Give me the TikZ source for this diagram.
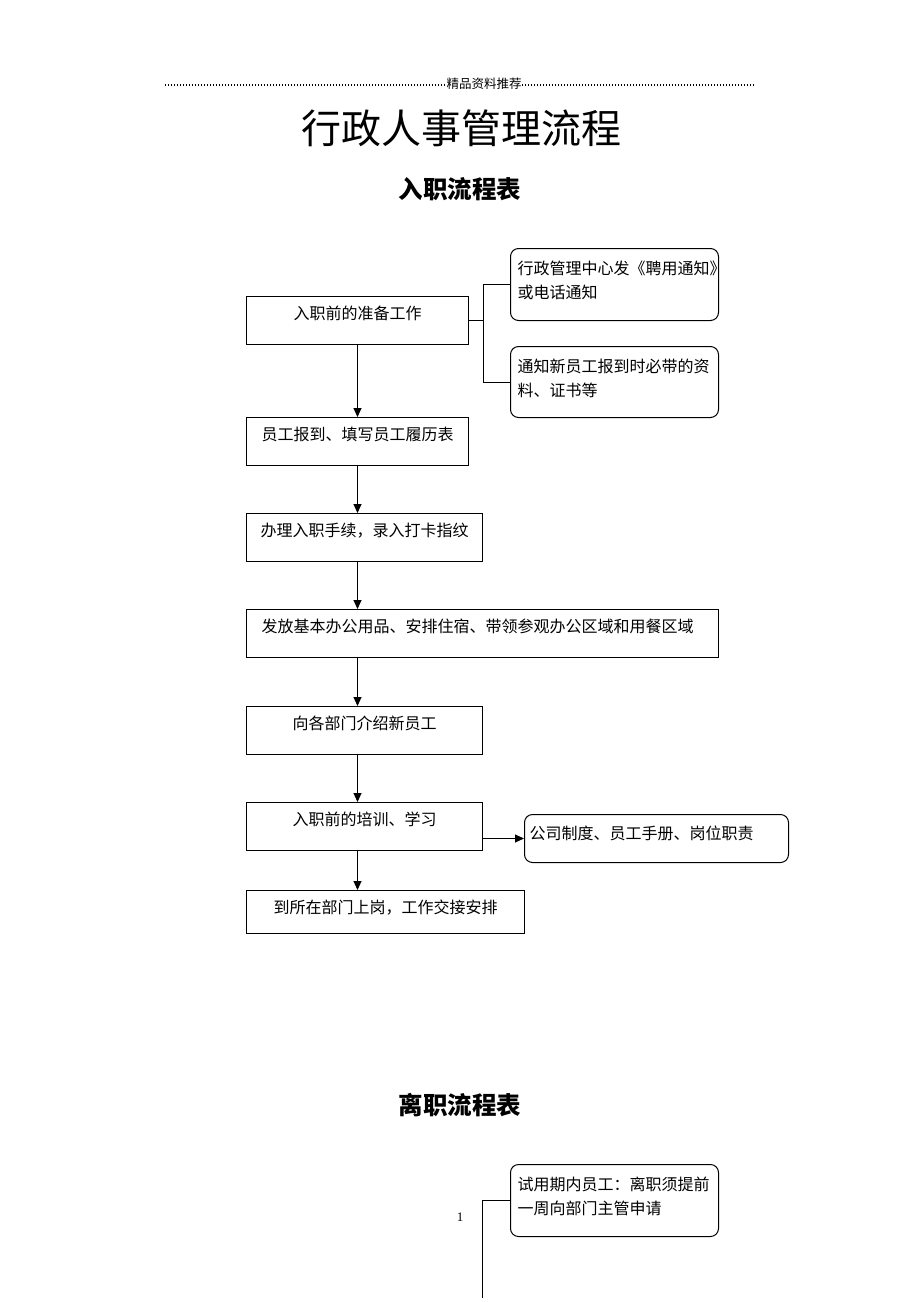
\documentclass[tikz,border=0pt]{standalone}
\usepackage{fontspec}
\setmainfont{Noto Sans CJK SC}
\newfontfamily\latinserif{Liberation Serif}
\usetikzlibrary{arrows.meta}
\newcommand\sqbox[3]{\parbox[c][#2pt][t]{#1pt}{\centering\rule{0pt}{23pt}#3}}
\newcommand\rdbox[3]{\parbox[c][#2pt][t]{#1pt}{\raggedright\leftskip=7pt\rule{0pt}{26pt}#3}}
\begin{document}
\begin{tikzpicture}[x=1pt,y=-1pt,
  every node/.style={font=\fontsize{16pt}{24pt}\selectfont},
  sq/.style={draw, line width=1pt, inner sep=0pt, anchor=north west},
  rd/.style={draw, line width=1pt, rounded corners=8pt, inner sep=0pt, anchor=north west},
  conn/.style={line width=1pt},
  arr/.style={line width=1pt, -{Triangle[length=9pt,width=8pt]}},
  dotline/.style={line width=1.2pt, dash pattern=on 1pt off 2pt}
]
\useasboundingbox (0,0) rectangle (920,1302);

% header
\node[font=\fontsize{12.5pt}{14pt}\selectfont, inner sep=0.5pt] (hdr) at (484,84) {精品资料推荐};
\draw[dotline] (165,85) -- (hdr.west |- 0,85);
\draw[dotline] (hdr.east |- 0,85) -- (756,85);

% titles
\node[font=\fontsize{40pt}{44pt}\selectfont] (title) at (461,128) {行政人事管理流程};
\node[font=\fontsize{24.5pt}{27pt}\selectfont\bfseries] (t1) at (460,189) {入职流程表};
\node[font=\fontsize{24.5pt}{27pt}\selectfont\bfseries] (t2) at (460,1105) {离职流程表};

% onboarding boxes
\node[sq] (b1) at (246,296) {\sqbox{222}{48}{入职前的准备工作}};
\node[rd] (r1) at (510,248) {\rdbox{208}{72}{行政管理中心发《聘用通知》\\或电话通知}};
\node[rd] (r2) at (510,346) {\rdbox{208}{71}{通知新员工报到时必带的资\\料、证书等}};
\node[sq] (b2) at (246,417) {\sqbox{222}{48}{员工报到、填写员工履历表}};
\node[sq] (b3) at (246,513) {\sqbox{236}{48}{办理入职手续，录入打卡指纹}};
\node[sq] (b4) at (246,609) {\sqbox{472}{48}{发放基本办公用品、安排住宿、带领参观办公区域和用餐区域\hspace*{10pt}}};
\node[sq] (b5) at (246,706) {\sqbox{236}{48}{向各部门介绍新员工}};
\node[sq] (b6) at (246,802) {\sqbox{236}{48}{入职前的培训、学习}};
\node[rd] (r3) at (524,814) {\parbox[c][48pt][t]{264pt}{\raggedright\leftskip=5pt\rule{0pt}{25pt}公司制度、员工手册、岗位职责}};
\node[sq] (b7) at (246,890) {\sqbox{278}{43}{到所在部门上岗，工作交接安排}};

% connectors
\draw[conn] (b1.east) -- ++(14,0) coordinate (j1);
\draw[conn] (r1.west) -- (r1.west -| j1) -- (r2.west -| j1) -- (r2.west);
\draw[arr] (b1.south) -- (b2.north);
\draw[arr] (b2.south) -- (b2.south |- b3.north);
\draw[arr] (b3.south -| b1.south) -- (b1.south |- b4.north);
\draw[arr] (b4.south -| b1.south) -- (b1.south |- b5.north);
\draw[arr] (b5.south -| b1.south) -- (b1.south |- b6.north);
\draw[arr] (b6.east |- r3.west) -- (r3.west);
\draw[arr] (b6.south -| b1.south) -- (b1.south |- b7.north);

% resignation
\node[rd] (r4) at (510,1164) {\rdbox{208}{72}{试用期内员工：离职须提前\\一周向部门主管申请}};
\coordinate (tail) at (482,1298);
\draw[conn] (r4.west) -- (r4.west -| tail) -- (tail);

% page number
\node[font=\latinserif\fontsize{13pt}{14pt}\selectfont] (pg) at (460,1217) {1};
\end{tikzpicture}
\end{document}
